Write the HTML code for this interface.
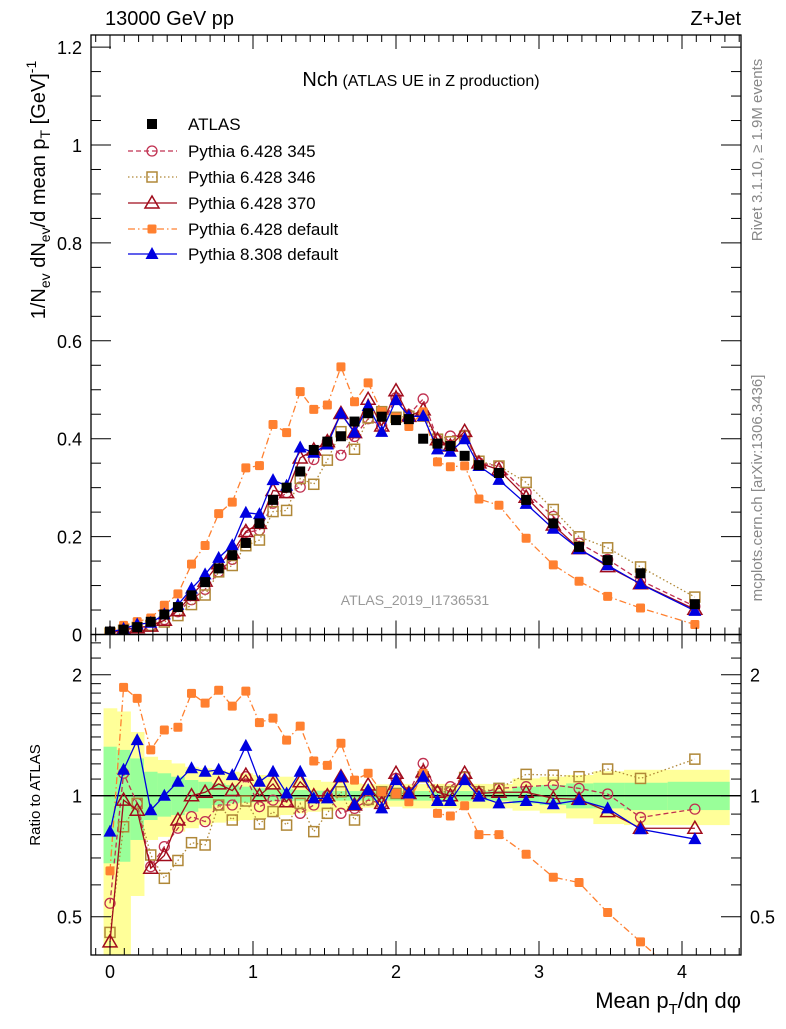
<!DOCTYPE html>
<html><head><meta charset="utf-8"><style>
body{margin:0;background:#fff}
svg text{font-family:"Liberation Sans",sans-serif}
</style></head><body>
<svg id="chart" width="786" height="1024" viewBox="0 0 786 1024" xmlns="http://www.w3.org/2000/svg">
<g id="bands"></g>
<g id="marks"></g>
<g id="axes"></g>
<text x="105" y="25" font-size="20">13000 GeV pp</text>
<text x="741" y="25" font-size="20" text-anchor="end">Z+Jet</text>
<text x="421" y="86" text-anchor="middle"><tspan font-size="20">Nch</tspan><tspan font-size="16"> (ATLAS UE in Z production)</tspan></text>
<text x="415" y="605" font-size="14" fill="#999" text-anchor="middle">ATLAS_2019_I1736531</text>
<text transform="translate(45,190) rotate(-90)" font-size="20" text-anchor="middle">1/N<tspan font-size="14" dy="5">ev</tspan><tspan dy="-5"> dN</tspan><tspan font-size="14" dy="5">ev</tspan><tspan dy="-5">/d mean p</tspan><tspan font-size="14" dy="5">T</tspan><tspan dy="-5"> [GeV]</tspan><tspan font-size="14" dy="-9">-1</tspan></text>
<text transform="translate(40,795) rotate(-90)" font-size="15" text-anchor="middle">Ratio to ATLAS</text>
<text x="741" y="1008" font-size="22" text-anchor="end">Mean p<tspan font-size="15" dy="6">T</tspan><tspan dy="-6">/dη dφ</tspan></text>
<text transform="translate(762,150) rotate(-90)" font-size="15" fill="#888" text-anchor="middle">Rivet 3.1.10, ≥ 1.9M events</text>
<text transform="translate(762,488) rotate(-90)" font-size="15" fill="#888" text-anchor="middle">mcplots.cern.ch [arXiv:1306.3436]</text>
<g id="legend"></g>
</svg>
<script>
const xCenters=[0,0.095,0.19,0.285,0.38,0.475,0.57,0.665,0.76,0.855,0.95,1.045,1.14,1.235,1.33,1.425,1.52,1.615,1.71,1.805,1.90,2.0,2.09,2.19,2.29,2.38,2.48,2.58,2.72,2.91,3.10,3.28,3.48,3.71,4.09];
const atlas=[0.006,0.01,0.015,0.026,0.041,0.056,0.08,0.107,0.135,0.162,0.187,0.227,0.275,0.30,0.333,0.377,0.394,0.405,0.435,0.452,0.445,0.438,0.44,0.40,0.39,0.385,0.365,0.346,0.33,0.275,0.227,0.179,0.152,0.125,0.062];
const ratio345=[0.54,1.137,0.957,0.666,0.747,0.83,0.887,0.862,0.948,0.948,1.115,0.939,0.975,0.966,0.904,0.948,1.0,0.904,0.93,0.975,0.957,1.104,1.02,1.203,1.02,1.053,1.115,1.013,1.043,1.053,1.063,1.043,1.01,0.883,0.926];
const ratio346=[0.457,0.837,0.957,0.712,0.623,0.69,0.764,0.754,0.948,0.87,0.97,0.85,0.913,0.845,0.957,0.814,0.904,1.023,0.87,0.979,1.023,1.013,1.013,1.115,1.023,1.023,1.11,1.023,1.043,1.13,1.125,1.115,1.165,1.104,1.233];
const ratio370=[0.433,0.975,0.92,0.66,0.71,0.87,1.0,1.02,1.07,1.03,1.125,1.0,1.07,0.966,1.083,1.0,1.0,1.115,0.948,1.063,0.957,1.137,1.013,1.147,1.02,1.0,1.137,1.013,1.02,1.02,0.985,0.98,0.913,0.83,0.83];
const ratioDef6=[0.65,1.86,1.746,1.3,1.457,1.48,1.797,1.70,1.83,1.67,1.82,1.52,1.56,1.375,1.49,1.22,1.19,1.35,1.093,1.137,1.023,1.013,0.966,1.137,0.904,0.89,0.944,0.8,0.8,0.715,0.627,0.608,0.512,0.433,0.33];
const ratioPy8=[0.814,1.16,1.375,0.92,1.0,1.083,1.17,1.147,1.16,1.125,1.33,1.083,1.147,1.013,1.147,0.985,0.985,1.115,0.948,1.033,0.93,1.093,1.013,1.115,0.97,0.97,1.093,0.995,0.957,0.97,0.952,0.975,0.93,0.825,0.78];
const yellowUp=[1.65,1.62,1.44,1.25,1.227,1.203,1.18,1.17,1.16,1.147,1.137,1.126,1.115,1.115,1.104,1.094,1.083,1.077,1.073,1.069,1.067,1.067,1.07,1.07,1.07,1.07,1.07,1.07,1.069,1.104,1.115,1.126,1.15,1.16,1.16];
const yellowDown=[0.40,0.40,0.563,0.776,0.79,0.814,0.83,0.845,0.857,0.865,0.87,0.878,0.887,0.895,0.904,0.912,0.918,0.921,0.93,0.934,0.939,0.939,0.93,0.93,0.93,0.93,0.93,0.93,0.93,0.918,0.904,0.878,0.85,0.845,0.845];
const greenUp=[1.324,1.30,1.238,1.147,1.137,1.115,1.094,1.083,1.073,1.063,1.053,1.043,1.039,1.037,1.033,1.029,1.029,1.027,1.027,1.027,1.027,1.027,1.027,1.027,1.027,1.027,1.027,1.027,1.029,1.053,1.063,1.073,1.077,1.077,1.083];
const greenDown=[0.679,0.685,0.776,0.87,0.887,0.895,0.912,0.93,0.948,0.957,0.961,0.964,0.968,0.97,0.972,0.972,0.972,0.972,0.972,0.972,0.972,0.972,0.972,0.972,0.972,0.972,0.972,0.972,0.972,0.957,0.948,0.93,0.93,0.921,0.921];
const xTicks=[0,1,2,3,4];
const yTicks=[0,0.2,0.4,0.6,0.8,1,1.2];
const yTickLabels=["0","0.2","0.4","0.6","0.8","1","1.2"];
const rTicks=[0.5,1,2];
const rTickLabels=["0.5","1","2"];

const NS="http://www.w3.org/2000/svg";
const L=91,R=741,T=35,M=634.5,B=955;
const sx=v=>110+v*143;
const sy=v=>634.5-v*489.5;
const sr=v=>Math.max(T-50,Math.min(1100,795.7-Math.log2(v)*121));
function mk(tag,attrs,parent){const e=document.createElementNS(NS,tag);for(const k in attrs)e.setAttribute(k,attrs[k]);parent.appendChild(e);return e;}
const bands=document.getElementById('bands'),marks=document.getElementById('marks'),axes=document.getElementById('axes'),legend=document.getElementById('legend');

// bands
function edges(i){const lo=i===0?-0.045:(xCenters[i-1]+xCenters[i])/2;const hi=i===xCenters.length-1?4.33:(xCenters[i]+xCenters[i+1])/2;return [lo,hi];}
xCenters.forEach((x,i)=>{const [a,b]=edges(i);
 const y1=Math.max(M,sr(yellowUp[i])),y2=Math.min(B,sr(yellowDown[i]));
 const r1=mk('rect',{x:sx(a),y:y1,width:sx(b)-sx(a)+0.5,height:y2-y1,fill:'#ffff99'},bands);
 
 
 const g1=sr(greenUp[i]),g2=sr(greenDown[i]);
 const r2=mk('rect',{x:sx(a),y:g1,width:sx(b)-sx(a)+0.5,height:g2-g1,fill:'#99ff99'},bands);
 
 
});
const one=mk('line',{x1:L,x2:R,y1:sr(1),y2:sr(1),stroke:'#000','stroke-width':1.3},bands);



// clip
const defs=mk('defs',{},document.getElementById('chart'));
const c1=mk('clipPath',{id:'cm'},defs);mk('rect',{x:L,y:T,width:R-L,height:M-T},c1);
const c2=mk('clipPath',{id:'cr'},defs);mk('rect',{x:L,y:M,width:R-L,height:B-M},c2);

const series=[
 {name:'pythia-6428-345',label:'Pythia 6.428 345',r:ratio345,color:'#c03050',dash:'5,3',marker:'circle'},
 {name:'pythia-6428-346',label:'Pythia 6.428 346',r:ratio346,color:'#b08838',dash:'1.5,2.5',marker:'osquare'},
 {name:'pythia-6428-370',label:'Pythia 6.428 370',r:ratio370,color:'#a00c1c',dash:'',marker:'otri'},
 {name:'pythia-6428-default',label:'Pythia 6.428 default',r:ratioDef6,color:'#ff8030',dash:'7,3,1.5,3',marker:'fsquare'},
 {name:'pythia-8308-default',label:'Pythia 8.308 default',r:ratioPy8,color:'#0000e0',dash:'',marker:'ftri'}];

function marker(type,x,y,color,parent,nm){let e;
 if(type==='circle')e=mk('circle',{cx:x,cy:y,r:5,fill:'none',stroke:color,'stroke-width':1.3},parent);
 else if(type==='osquare')e=mk('rect',{x:x-5,y:y-5,width:10,height:10,fill:'none',stroke:color,'stroke-width':1.5},parent);
 else if(type==='fsquare')e=mk('rect',{x:x-4.5,y:y-4.5,width:9,height:9,rx:1.5,fill:color},parent);
 else if(type==='bsquare')e=mk('rect',{x:x-5,y:y-5,width:10,height:10,fill:color},parent);
 else if(type==='otri')e=mk('polygon',{points:`${x},${y-7} ${x-7},${y+5} ${x+7},${y+5}`,fill:'none',stroke:color,'stroke-width':1.5},parent);
 else e=mk('polygon',{points:`${x},${y-7} ${x-6.5},${y+5} ${x+6.5},${y+5}`,fill:color},parent);
 
 
}
const gm=mk('g',{'clip-path':'url(#cm)'},marks),gr=mk('g',{'clip-path':'url(#cr)'},marks);
series.forEach(s=>{
 const main=xCenters.map((x,i)=>[sx(x),sy(atlas[i]*s.r[i])]);
 const rat=xCenters.map((x,i)=>[sx(x),sr(s.r[i])]);
 [[main,gm,'main'],[rat,gr,'ratio']].forEach(([pts,g,p])=>{
  const pl=mk('polyline',{points:pts.map(q=>q.join(',')).join(' '),fill:'none',stroke:s.color,'stroke-width':1.3},g);
  if(s.dash)pl.setAttribute('stroke-dasharray',s.dash);
  
  
  pts.forEach(q=>marker(s.marker,q[0],q[1],s.color,g,s.name+'-'+p+'-point'));
 });
});
xCenters.forEach((x,i)=>marker('bsquare',sx(x),sy(atlas[i]),'#000',gm,'atlas-data-point'));

// axes
function ln(x1,y1,x2,y2,w,nm){const e=mk('line',{x1,y1,x2,y2,stroke:'#000','stroke-width':w||1},axes);}
function tx(x,y,s,anc,size,nm){const e=mk('text',{x,y,'font-size':size,'text-anchor':anc},axes);e.textContent=s;}
const fr1=mk('rect',{x:L,y:T,width:R-L,height:M-T,fill:'none',stroke:'#000','stroke-width':1.3},axes);

const fr2=mk('rect',{x:L,y:M,width:R-L,height:B-M,fill:'none',stroke:'#000','stroke-width':1.3},axes);

for(let k=-1;k<=44;k++){const v=k/10;const x=sx(v);if(x<L||x>R)continue;const maj=k%10===0;const h=maj?14:7;
 [[T,T+h],[M,M-h],[M,M+h],[B,B-h]].forEach(([a,b])=>ln(x,a,x,b,1,'x-tick'));}
xTicks.forEach(v=>tx(sx(v),978,String(v),'middle',18,'x-tick-label'));
for(let k=0;k<=24;k++){const v=k*0.05;const y=sy(v);if(y<T)continue;const maj=k%4===0;const h=maj?20:10;
 ln(L,y,L+h,y,1,'y-tick');ln(R,y,R-h,y,1,'y-tick');}
yTicks.forEach((v,i)=>tx(82,sy(v)+7,yTickLabels[i],'end',18,'y-tick-label'));
[0.4,0.5,0.6,0.7,0.8,0.9,1,1.1,1.2,1.3,1.4,1.5,1.6,1.7,1.8,1.9,2,2.2,2.4].forEach(v=>{const y=sr(v);if(y<M||y>B)return;const maj=(v===0.5||v===1||v===2);const h=maj?20:10;
 ln(L,y,L+h,y,1,'ratio-tick');ln(R,y,R-h,y,1,'ratio-tick');});
rTicks.forEach((v,i)=>{tx(82,sr(v)+7,rTickLabels[i],'end',18,'ratio-tick-label');tx(750,sr(v)+7,rTickLabels[i],'start',18,'ratio-tick-label-right');});

// legend
const lx=152,ly=[124,151,177,203,229,254];
marker('bsquare',lx,ly[0],'#000',legend,'legend-marker-atlas');
const t0=mk('text',{x:188,y:ly[0]+6,'font-size':17},legend);t0.textContent='ATLAS';

series.forEach((s,i)=>{const y=ly[i+1];
 const l=mk('line',{x1:128,x2:177,y1:y,y2:y,stroke:s.color,'stroke-width':1.3},legend);
 if(s.dash)l.setAttribute('stroke-dasharray',s.dash);
 
 
 marker(s.marker,lx,y,s.color,legend,'legend-marker-'+s.name);
 const t=mk('text',{x:188,y:y+6,'font-size':17},legend);t.textContent=s.label;
 
 
});
</script>
</body></html>
